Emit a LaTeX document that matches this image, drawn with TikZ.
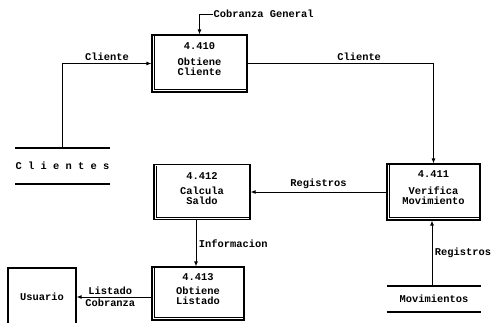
\documentclass[tikz,border=0pt]{standalone}
\usepackage{fontspec}
\setmonofont{Liberation Mono}
\usetikzlibrary{arrows.meta}

\begin{document}
\begin{tikzpicture}
[x=1pt,y=-1pt,
proc/.style={rectangle,draw=black,line width=1.2pt,fill=white,inner sep=0pt},
txt/.style={font=\ttfamily\bfseries\fontsize{10.4}{10}\selectfont,inner sep=0.5pt,align=center},
store/.style={txt,minimum width=94pt},
storeline/.style={line width=2pt},
flow/.style={line width=0.9pt,-{Latex[length=5pt,width=4pt]}}]
\clip (0,0) rectangle (492,323);
% procesos
\node[proc,minimum width=95pt,minimum height=57pt] at (199.5,63.5) (p410) {};
\node[proc,minimum width=93pt,minimum height=56pt] at (433.5,192) (p411) {};
\node[proc,minimum width=96pt,minimum height=55pt] at (202,192) (p412) {};
\node[proc,minimum width=92pt,minimum height=53pt] at (198,293.5) (p413) {};
\foreach \n in {p410,p411,p412,p413}
  \draw[thin] ([xshift=3pt,yshift=-2pt]\n.north west) |- ([xshift=-1pt,yshift=3pt]\n.south east);
\node[txt] at ([yshift=-12pt]p410.north) (t410) {4.410};
\node[txt] at ([yshift=-32pt]p410.north) (b410) {Obtiene\\Cliente};
\node[txt] at ([yshift=-11pt]p411.north) (t411) {4.411};
\node[txt] at ([yshift=-32pt]p411.north) (b411) {Verifica\\Movimiento};
\node[txt] at ([yshift=-12pt]p412.north) (t412) {4.412};
\node[txt] at ([yshift=-32pt]p412.north) (b412) {Calcula\\Saldo};
\node[txt] at ([yshift=-11pt]p413.north) (t413) {4.413};
\node[txt] at ([yshift=-29pt]p413.north) (b413) {Obtiene\\Listado};
% entidad externa
\node[proc,txt,line width=1.2pt,minimum width=68pt,minimum height=58pt] at (42,297) (usuario) {Usuario};
% almacenes
\node[store,minimum height=36pt] at (62.5,166) (clientes) {C l i e n t e s};
\node[store,minimum height=26pt] at (434,299) (movs) {Movimientos};
\foreach \s in {clientes,movs} {
  \draw[storeline] (\s.north west) -- (\s.north east);
  \draw[storeline] (\s.south west) -- (\s.south east);
}
% flujos
\node[txt,anchor=west] at (213,14) (cg) {Cobranza General};
\draw[flow] (cg.west) -| (p410.north);
\draw[flow] (clientes.north) |- (p410.west) node[txt,pos=0.75,above=2pt] (f1) {Cliente};
\draw[flow] (p410.east) -| (p411.north) node[txt,pos=0.3,above=2pt] (f2) {Cliente};
\draw[flow] (p411.west) -- (p412.east) node[txt,midway,above=2pt] (f3) {Registros};
\draw[flow] ([xshift=-6pt]p412.south) -- ([xshift=-6pt]p412.south |- p413.north) node[txt,midway,right=2pt] (f4) {Informacion};
\draw[flow] (p413.west |- usuario.east) -- (usuario.east) node[txt,pos=0.55,above=1pt] (f5) {Listado} node[txt,pos=0.55,below=1pt] (f6) {Cobranza};
\draw[flow] ([xshift=-2pt]movs.north) -- ([xshift=-2pt]movs.north |- p411.south) node[txt,midway,right=2pt] (f7) {Registros};
\end{tikzpicture}
\end{document}
